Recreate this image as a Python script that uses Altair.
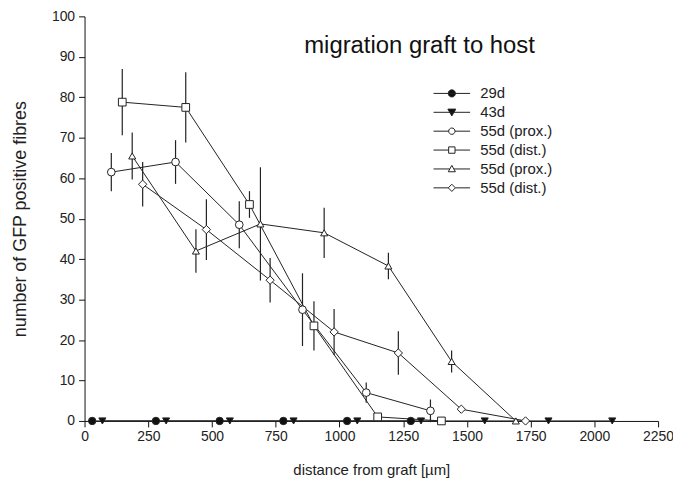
import altair as alt
import pandas as pd

# ---------------- data ----------------
series_names = ["29d", "43d", "55d (prox.)", "55d (dist.)", "55d (prox.) ", "55d (dist.) "]

x_29d = [30, 280, 530, 780, 1030, 1280]
y_29d = [0, 0, 0, 0, 0, 0]
e_29d = [0, 0, 0, 0, 0, 0]

x_43d = [70, 320, 570, 820, 1070, 1320, 1570, 1820, 2070]
y_43d = [0, 0, 0, 0, 0, 0, 0, 0, 0]
e_43d = [0, 0, 0, 0, 0, 0, 0, 0, 0]

x_55p_a = [105, 357, 607, 855, 1105, 1357]
y_55p_a = [61.5, 64, 48.5, 27.5, 7, 2.5]
e_55p_a = [4.7, 5.4, 5.8, 9.0, 2.5, 2.8]

x_55d_a = [148, 397, 647, 900, 1150, 1400]
y_55d_a = [78.8, 77.5, 53.5, 23.5, 1, 0]
e_55d_a = [8.2, 8.7, 3.3, 6.1, 0, 0]

x_55p_b = [187, 437, 690, 940, 1192, 1440, 1692]
y_55p_b = [65.5, 42, 48.7, 46.5, 38.3, 14.7, 0]
e_55p_b = [5.8, 5.4, 14.0, 6.2, 3.3, 2.7, 0]

x_55d_b = [228, 478, 728, 979, 1231, 1478, 1730]
y_55d_b = [58.5, 47.3, 34.8, 22, 16.8, 2.9, 0]
e_55d_b = [5.5, 7.5, 5.5, 5.7, 5.4, 0, 0]

x_ticks = [0, 250, 500, 750, 1000, 1250, 1500, 1750, 2000, 2250]
y_ticks = [0, 10, 20, 30, 40, 50, 60, 70, 80, 90, 100]

chart_title = "migration graft to host"
x_title = "distance from graft [µm]"
y_title = "number of GFP positive fibres"

# ---------------- styling ----------------
point_shapes = ["circle", "triangle-down", "circle", "square", "triangle-up", "diamond"]
point_fills = ["#111111", "#111111", "white", "white", "white", "white"]
point_sizes = [55, 50, 60, 60, 50, 70]
legend_shapes = [
    "M-4.6,0H4.6M0.9,0A0.9,0.9,0,1,1,-0.9,0A0.9,0.9,0,1,1,0.9,0Z",
    "M-4.6,0H4.6M-1,-0.8L1,-0.8L0,0.9Z",
    "M-4.6,0H-0.8M0.8,0H4.6M0.8,0A0.8,0.8,0,1,1,-0.8,0A0.8,0.8,0,1,1,0.8,0Z",
    "M-4.6,0H-0.8M0.8,0H4.6M-0.8,-0.8H0.8V0.8H-0.8Z",
    "M-4.6,0H-0.5M0.5,0H4.6M0,-0.9L0.9,0.7L-0.9,0.7Z",
    "M-4.6,0H-0.9M0.9,0H4.6M0,-0.9L0.9,0L0,0.9L-0.9,0Z",
]
FONT = "Liberation Sans"
INK = "#222222"

all_x = [x_29d, x_43d, x_55p_a, x_55d_a, x_55p_b, x_55d_b]
all_y = [y_29d, y_43d, y_55p_a, y_55d_a, y_55p_b, y_55d_b]
all_e = [e_29d, e_43d, e_55p_a, e_55d_a, e_55p_b, e_55d_b]

rows = []
for name, xs, ys, es in zip(series_names, all_x, all_y, all_e):
    for i, (x, y, e) in enumerate(zip(xs, ys, es)):
        rows.append({"series": name, "x": x, "y": y, "err": e,
                     "lo": y - e, "hi": y + e, "order": i})
df = pd.DataFrame(rows)

xscale = alt.Scale(domain=[0, 2250], nice=False, zero=False)
yscale = alt.Scale(domain=[0, 100], nice=False)

xaxis = alt.Axis(values=x_ticks, grid=False, title=x_title, tickSize=6, format="d",
                 labelFontSize=14, titleFontSize=15, titlePadding=19,
                 labelPadding=3, labelFlush=False)
yaxis = alt.Axis(values=y_ticks, grid=False, title=y_title, tickSize=6, format="d",
                 labelFontSize=14, titleFontSize=18, titlePadding=22,
                 labelPadding=4)

base = alt.Chart(df)

lines = base.mark_line(color=INK, strokeWidth=1).encode(
    x=alt.X("x:Q", scale=xscale, axis=xaxis),
    y=alt.Y("y:Q", scale=yscale, axis=yaxis),
    detail="series:N",
    order="order:Q",
)

errs = base.transform_filter("datum.err > 0").mark_rule(color=INK, strokeWidth=1.2).encode(
    x="x:Q",
    y="lo:Q",
    y2="hi:Q",
)

point_layers = []
for name, shp, fil, sz in zip(series_names, point_shapes, point_fills, point_sizes):
    point_layers.append(
        base.transform_filter(alt.datum.series == name).mark_point(
            shape=shp, fill=fil, stroke=INK, strokeWidth=1, size=sz, opacity=1, fillOpacity=1
        ).encode(x="x:Q", y="y:Q")
    )

leg = dict(title=None, orient="none", legendX=362, legendY=70,
           symbolSize=64, labelOffset=21, rowPadding=3, padding=0,
           symbolStrokeColor=INK, symbolStrokeWidth=1, symbolOpacity=1,
           labelFontSize=15, labelFont=FONT, labelColor=INK)

legend_layer = base.transform_filter("false").mark_point(opacity=1, strokeWidth=1).encode(
    x="x:Q",
    y="y:Q",
    shape=alt.Shape("series:N", scale=alt.Scale(domain=series_names, range=legend_shapes),
                    legend=alt.Legend(**leg)),
    fill=alt.Fill("series:N", scale=alt.Scale(domain=series_names, range=point_fills),
                  legend=alt.Legend(**leg)),
    stroke=alt.Stroke("series:N", scale=alt.Scale(domain=series_names, range=[INK] * 6),
                      legend=alt.Legend(**leg)),
)

title_layer = alt.Chart(pd.DataFrame({"t": [chart_title]})).mark_text(
    font=FONT, fontSize=24, color="#111111", align="center", baseline="alphabetic"
).encode(text="t:N", x=alt.value(337), y=alt.value(37))

chart = alt.layer(lines, errs, *point_layers, legend_layer, title_layer).properties(
    width=577, height=407,
    autosize=alt.AutoSizeParams(type="none"),
    padding={"left": 77, "top": 7, "right": 15, "bottom": 60},
    background="white",
).configure_view(stroke=None).configure_axis(
    labelFont=FONT, titleFont=FONT, labelColor=INK, titleColor=INK,
    domainColor="#111111", tickColor="#111111", titleFontWeight="normal",
    domainWidth=1, tickWidth=1
)

chart.save("out.html", embed_options={"renderer": "svg", "actions": False})
